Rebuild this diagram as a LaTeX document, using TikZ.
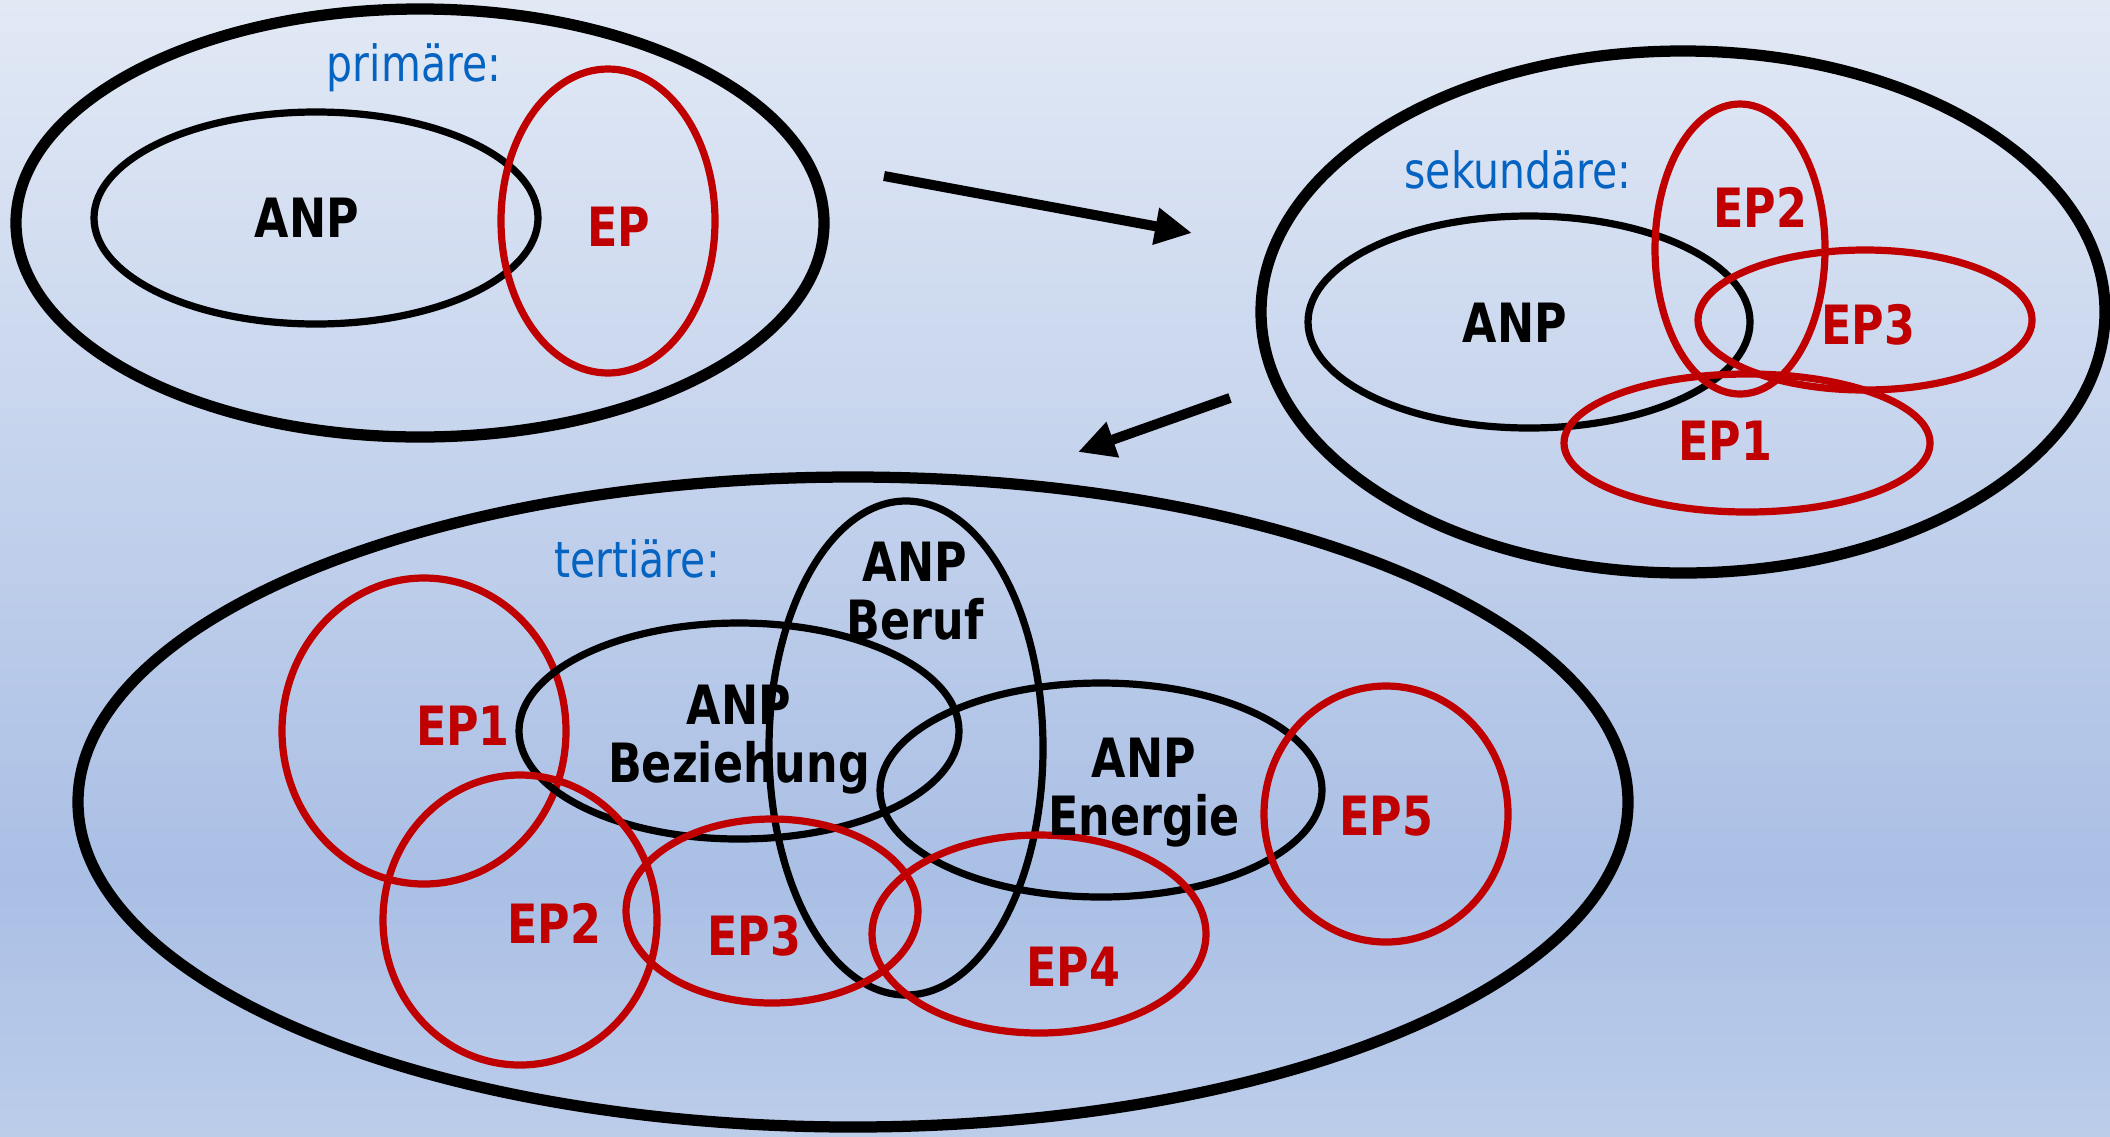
\documentclass[tikz,border=0pt]{standalone}
\usepackage{fontspec}
\setmainfont[FakeStretch=0.82]{DejaVu Sans}
\usepackage{tikz}
\usetikzlibrary{arrows.meta,positioning}
\definecolor{epred}{RGB}{192,0,0}
\definecolor{stageblue}{RGB}{5,99,193}
\definecolor{bgtop}{RGB}{226,233,245}
\definecolor{bgmid}{RGB}{170,191,229}
\definecolor{bgbot}{RGB}{188,205,234}

\begin{document}
\begin{tikzpicture}[
x=0.01cm,y=-0.01cm,
outer/.style={
	draw=black,
	line width=3.2pt
},
anp/.style={
	draw=black,
	line width=2.05pt
},
ep/.style={
	draw=epred,
	line width=2.05pt
},
anptext/.style={
	font=\fontsize{15.4}{16.5}\selectfont\bfseries,
	text=black,
	align=center,
	inner sep=0pt
},
eptext/.style={
	font=\fontsize{15.4}{16.5}\selectfont\bfseries,
	text=epred,
	inner sep=0pt
},
stage/.style={
	font=\fontsize{14.2}{16}\selectfont,
	text=stageblue,
	inner sep=0pt
},
flow/.style={
	line width=2.85pt,
	-{Triangle[length=10.5pt,width=10pt]}
}
]
\useasboundingbox (0,0) rectangle (2110,1136);
\shade[top color=bgtop,bottom color=bgmid] (0,0) rectangle (2110,880);
\shade[top color=bgmid,bottom color=bgbot] (0,879) rectangle (2110,1136);

% primaere
\draw[outer] (420,223) ellipse [x radius=404,y radius=214];
\draw[anp] (316,218) ellipse [x radius=222,y radius=106];
\draw[ep] (608,221) ellipse [x radius=107,y radius=152];
\node[stage] (prim) at (414,68) {primäre:};
\node[anptext] (prim-anp) at (307,218) {ANP};
\node[eptext] (prim-ep) at (619,227) {EP};

% sekundaere
\draw[outer] (1683,312) ellipse [x radius=422,y radius=261];
\draw[anp] (1529,322) ellipse [x radius=221,y radius=106];
\draw[ep] (1740,249) ellipse [x radius=85,y radius=145];
\draw[ep] (1865,320) ellipse [x radius=167,y radius=70];
\draw[ep] (1747,443) ellipse [x radius=183,y radius=69];
\node[stage] (sek) at (1518,170) {sekundäre:};
\node[anptext] (sek-anp) at (1515,323) {ANP};
\node[eptext] (sek-ep2) at (1760,207) {EP2};
\node[eptext] (sek-ep3) at (1868,325) {EP3};
\node[eptext] (sek-ep1) at (1725,441) {EP1};

% tertiaere
\draw[outer] (853,802) ellipse [x radius=775,y radius=325];
\draw[ep] (424,731) ellipse [x radius=142,y radius=153];
\draw[anp] (739,731) ellipse [x radius=220,y radius=108];
\draw[anp] (906,748) ellipse [x radius=137,y radius=247];
\draw[anp] (1101,790) ellipse [x radius=221,y radius=107];
\draw[ep] (520,920) ellipse [x radius=137,y radius=145];
\draw[ep] (772,911) ellipse [x radius=146,y radius=92];
\draw[ep] (1039,934) ellipse [x radius=167,y radius=99];
\draw[ep] (1386,814) ellipse [x radius=122,y radius=128];
\node[stage] (tert) at (637,559) {tertiäre:};
\node[anptext] (tert-bez) at (739,740) {ANP\\Beziehung};
\node[anptext] (tert-ber) at (915,591) {ANP\\Beruf};
\node[anptext] (tert-ene) at (1144,793) {ANP\\Energie};
\node[eptext] (tert-ep1) at (463,726) {EP1};
\node[eptext] (tert-ep2) at (554,923) {EP2};
\node[eptext] (tert-ep3) at (754,936) {EP3};
\node[eptext] (tert-ep4) at (1073,967) {EP4};
\node[eptext] (tert-ep5) at (1386,816) {EP5};

\coordinate (a1s) at (884,176);
\coordinate (a1e) at (1192,233);
\coordinate (a2s) at (1230,398);
\coordinate (a2e) at (1078,452);
\draw[flow] (a1s) -- (a1e);
\draw[flow] (a2s) -- (a2e);

\end{tikzpicture}
\end{document}
